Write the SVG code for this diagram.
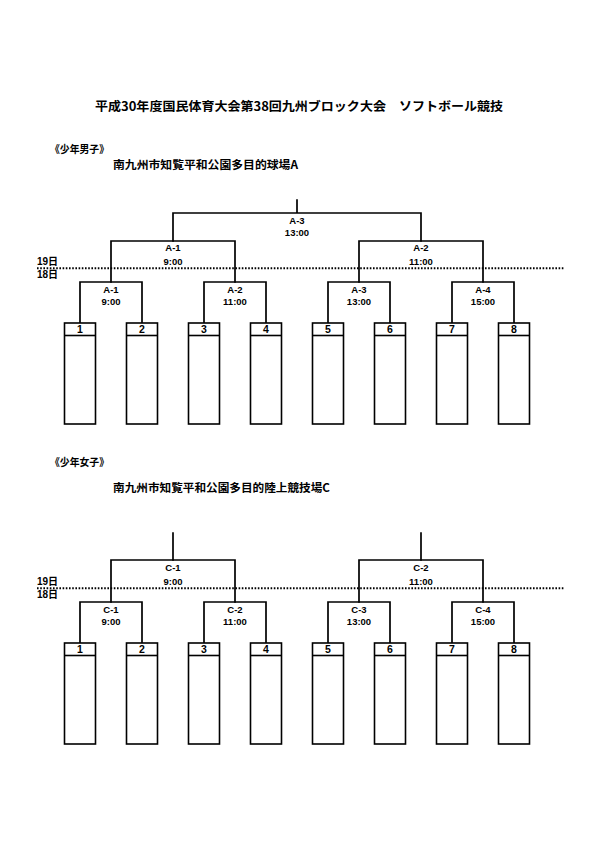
<svg xmlns="http://www.w3.org/2000/svg" width="595" height="842" viewBox="0 0 595 842">
<style>
.bg{fill:#ffffff}
.ln{fill:none;stroke:#000;stroke-width:1.7;stroke-linecap:square}
.dot{fill:none;stroke:#000;stroke-width:2;stroke-dasharray:1.6 1.6}
.box{fill:#fff;stroke:#000;stroke-width:1.6}
.hd{fill:none;stroke:#000;stroke-width:1.6}
.jp{font-family:"Noto Sans CJK JP","Noto Sans CJK SC",sans-serif;font-weight:bold;fill:#000}
.lb{font-family:"Liberation Sans",Arial,sans-serif;font-weight:bold;font-size:9.5px;fill:#000;text-anchor:middle}
.num{font-family:"Liberation Sans",Arial,sans-serif;font-weight:bold;font-size:10.5px;fill:#000;text-anchor:middle}
.day{font-family:"Liberation Sans","Noto Sans CJK JP",sans-serif;font-weight:bold;font-size:10px;fill:#000}
</style>
<rect class="bg" x="0" y="0" width="595" height="842"/>

<g id="title">
<text class="jp" x="95" y="110.5" font-size="12.5" textLength="408" lengthAdjust="spacingAndGlyphs">平成30年度国民体育大会第38回九州ブロック大会　ソフトボール競技</text>
</g>

<g id="heading-boys">
<text class="jp" x="50" y="152.5" font-size="10.5" textLength="59" lengthAdjust="spacingAndGlyphs">《少年男子》</text>
<text class="jp" x="113" y="169" font-size="11" textLength="185" lengthAdjust="spacingAndGlyphs">南九州市知覧平和公園多目的球場A</text>
</g>
<g id="heading-girls">
<text class="jp" x="50" y="465.5" font-size="10.5" textLength="59" lengthAdjust="spacingAndGlyphs">《少年女子》</text>
<text class="jp" x="113" y="492" font-size="11" textLength="217" lengthAdjust="spacingAndGlyphs">南九州市知覧平和公園多目的陸上競技場C</text>
</g>

<g id="day-lines">
<line class="dot" x1="37" y1="268.3" x2="565" y2="268.3"/>
<text class="day" x="37" y="264.5">19日</text>
<text class="day" x="37" y="277.5">18日</text>
<line class="dot" x1="37" y1="588.3" x2="565" y2="588.3"/>
<text class="day" x="37" y="584.5">19日</text>
<text class="day" x="37" y="597.5">18日</text>
</g>

<g id="connectors">
<path class="ln" d="M297 200V213M173 241V213H421V241"/>
<path class="ln" d="M111 282V241H235V282M359 282V241H483V282"/>
<path class="ln" d="M80 323V282H142V323M204 323V282H266V323M328 323V282H390V323M452 323V282H514V323"/>
<path class="ln" d="M173 533V560M421 533V560"/>
<path class="ln" d="M111 602V560H235V602M359 602V560H483V602"/>
<path class="ln" d="M80 643V602H142V643M204 643V602H266V643M328 643V602H390V643M452 643V602H514V643"/>
</g>

<g id="match-A3"><text class="lb" x="297" y="223.5">A-3</text><text class="lb" x="297" y="235.5">13:00</text></g>
<g id="match-A1-19"><text class="lb" x="173" y="251">A-1</text><text class="lb" x="173" y="265">9:00</text></g>
<g id="match-A2-19"><text class="lb" x="421" y="251">A-2</text><text class="lb" x="421" y="265">11:00</text></g>
<g id="match-A1"><text class="lb" x="111" y="292.5">A-1</text><text class="lb" x="111" y="305">9:00</text></g>
<g id="match-A2"><text class="lb" x="235" y="292.5">A-2</text><text class="lb" x="235" y="305">11:00</text></g>
<g id="match-A3b"><text class="lb" x="359" y="292.5">A-3</text><text class="lb" x="359" y="305">13:00</text></g>
<g id="match-A4"><text class="lb" x="483" y="292.5">A-4</text><text class="lb" x="483" y="305">15:00</text></g>

<g id="match-C1-19"><text class="lb" x="173" y="571">C-1</text><text class="lb" x="173" y="585">9:00</text></g>
<g id="match-C2-19"><text class="lb" x="421" y="571">C-2</text><text class="lb" x="421" y="585">11:00</text></g>
<g id="match-C1"><text class="lb" x="111" y="612.5">C-1</text><text class="lb" x="111" y="625">9:00</text></g>
<g id="match-C2"><text class="lb" x="235" y="612.5">C-2</text><text class="lb" x="235" y="625">11:00</text></g>
<g id="match-C3"><text class="lb" x="359" y="612.5">C-3</text><text class="lb" x="359" y="625">13:00</text></g>
<g id="match-C4"><text class="lb" x="483" y="612.5">C-4</text><text class="lb" x="483" y="625">15:00</text></g>

<g id="boy-1"><rect class="box" x="64.5" y="323" width="31" height="101"/><line class="hd" x1="64.5" y1="335.5" x2="95.5" y2="335.5"/><text class="num" x="80" y="333">1</text></g>
<g id="boy-2"><rect class="box" x="126.5" y="323" width="31" height="101"/><line class="hd" x1="126.5" y1="335.5" x2="157.5" y2="335.5"/><text class="num" x="142" y="333">2</text></g>
<g id="boy-3"><rect class="box" x="188.5" y="323" width="31" height="101"/><line class="hd" x1="188.5" y1="335.5" x2="219.5" y2="335.5"/><text class="num" x="204" y="333">3</text></g>
<g id="boy-4"><rect class="box" x="250.5" y="323" width="31" height="101"/><line class="hd" x1="250.5" y1="335.5" x2="281.5" y2="335.5"/><text class="num" x="266" y="333">4</text></g>
<g id="boy-5"><rect class="box" x="312.5" y="323" width="31" height="101"/><line class="hd" x1="312.5" y1="335.5" x2="343.5" y2="335.5"/><text class="num" x="328" y="333">5</text></g>
<g id="boy-6"><rect class="box" x="374.5" y="323" width="31" height="101"/><line class="hd" x1="374.5" y1="335.5" x2="405.5" y2="335.5"/><text class="num" x="390" y="333">6</text></g>
<g id="boy-7"><rect class="box" x="436.5" y="323" width="31" height="101"/><line class="hd" x1="436.5" y1="335.5" x2="467.5" y2="335.5"/><text class="num" x="452" y="333">7</text></g>
<g id="boy-8"><rect class="box" x="498.5" y="323" width="31" height="101"/><line class="hd" x1="498.5" y1="335.5" x2="529.5" y2="335.5"/><text class="num" x="514" y="333">8</text></g>

<g id="girl-1"><rect class="box" x="64.5" y="643" width="31" height="101"/><line class="hd" x1="64.5" y1="655.5" x2="95.5" y2="655.5"/><text class="num" x="80" y="653">1</text></g>
<g id="girl-2"><rect class="box" x="126.5" y="643" width="31" height="101"/><line class="hd" x1="126.5" y1="655.5" x2="157.5" y2="655.5"/><text class="num" x="142" y="653">2</text></g>
<g id="girl-3"><rect class="box" x="188.5" y="643" width="31" height="101"/><line class="hd" x1="188.5" y1="655.5" x2="219.5" y2="655.5"/><text class="num" x="204" y="653">3</text></g>
<g id="girl-4"><rect class="box" x="250.5" y="643" width="31" height="101"/><line class="hd" x1="250.5" y1="655.5" x2="281.5" y2="655.5"/><text class="num" x="266" y="653">4</text></g>
<g id="girl-5"><rect class="box" x="312.5" y="643" width="31" height="101"/><line class="hd" x1="312.5" y1="655.5" x2="343.5" y2="655.5"/><text class="num" x="328" y="653">5</text></g>
<g id="girl-6"><rect class="box" x="374.5" y="643" width="31" height="101"/><line class="hd" x1="374.5" y1="655.5" x2="405.5" y2="655.5"/><text class="num" x="390" y="653">6</text></g>
<g id="girl-7"><rect class="box" x="436.5" y="643" width="31" height="101"/><line class="hd" x1="436.5" y1="655.5" x2="467.5" y2="655.5"/><text class="num" x="452" y="653">7</text></g>
<g id="girl-8"><rect class="box" x="498.5" y="643" width="31" height="101"/><line class="hd" x1="498.5" y1="655.5" x2="529.5" y2="655.5"/><text class="num" x="514" y="653">8</text></g>
</svg>
